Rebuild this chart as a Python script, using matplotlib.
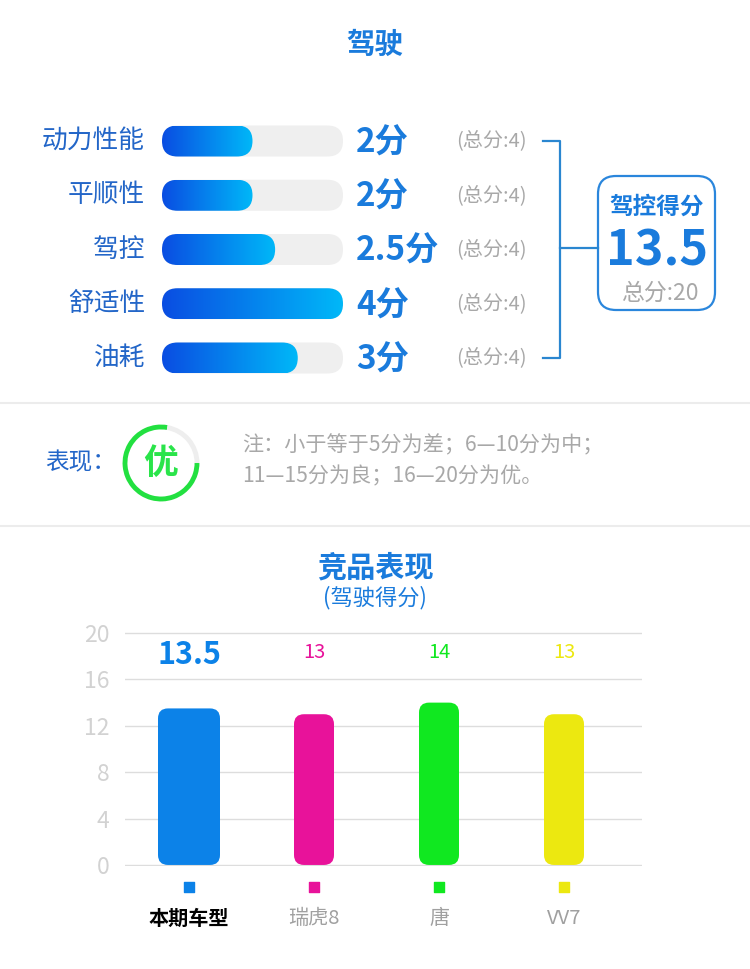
import numpy as np
import matplotlib.pyplot as plt
from matplotlib.patches import FancyBboxPatch, Arc
from matplotlib.colors import LinearSegmentedColormap

plt.rcParams['font.family'] = ['Noto Sans CJK SC', 'DejaVu Sans']

# ---- data ----
items = ['动力性能', '平顺性', '驾控', '舒适性', '油耗']
item_scores = [2, 2, 2.5, 4, 3]
item_max = 4
total_score = 13.5
total_max = 20
rating = '优'
note_lines = ['注：小于等于5分为差；6—10分为中；', '11—15分为良；16—20分为优。']

cars = ['本期车型', '瑞虎8', '唐', 'VV7']
car_scores = [13.5, 13, 14, 13]
car_colors = ['#0c82e8', '#e8129a', '#10e820', '#ece810']
y_ticks = [0, 4, 8, 12, 16, 20]

BLUE = '#1a7bdc'
LABEL_BLUE = '#2366c8'
GRAY = '#a8a8a8'

W, H = 750, 969
fig = plt.figure(figsize=(7.5, 9.69), dpi=100)


def px_axes(x0, y0, x1, y1):
    # axes placed by pixel box, y measured from the top
    a = fig.add_axes([x0 / W, 1 - y1 / H, (x1 - x0) / W, (y1 - y0) / H])
    a.set_facecolor('none')
    return a


bg = px_axes(0, 0, W, H)
bg.set_xlim(0, W)
bg.set_ylim(H, 0)
bg.axis('off')

# ============ top: driving scores ============
bg.text(375, 45, '驾驶', ha='center', va='center', fontsize=20.5, fontweight='bold', color=BLUE)

row0, step = 141, 54.25
ax_p = px_axes(162, row0 - step / 2, 343, row0 + 4.5 * step)
ax_p.axis('off')

grad = LinearSegmentedColormap.from_list('g', ['#0a4de2', '#00b8f8'])
bar_h = 31 / step
r_x = 15.5 / (181 / item_max)
asp = (15.5 / step) / r_x
for i, (name, v) in enumerate(zip(items, item_scores)):
    track = FancyBboxPatch((0, i - bar_h / 2), item_max, bar_h,
                           boxstyle=f'round,pad=0,rounding_size={r_x}',
                           mutation_aspect=asp, fc='#efefef', ec='none', zorder=1)
    ax_p.add_patch(track)
    clip = FancyBboxPatch((0, i - bar_h / 2), v, bar_h,
                          boxstyle=f'round,pad=0,rounding_size={r_x}',
                          mutation_aspect=asp, fc='none', ec='none', zorder=1)
    ax_p.add_patch(clip)
    im = ax_p.imshow(np.linspace(0, 1, 256).reshape(1, -1), cmap=grad,
                     extent=(0, v, i + bar_h / 2, i - bar_h / 2), aspect='auto', zorder=2)
    im.set_clip_path(clip)

    y = row0 + i * step
    bg.text(145, y, name, ha='right', va='center', fontsize=18.5, color=LABEL_BLUE)
    bg.text(356, y + 2, f'{v:g}分', ha='left', va='center', fontsize=24, fontweight='bold', color=BLUE)
    bg.text(456, y, f'(总分:{item_max})', ha='left', va='center', fontsize=14.5, color=GRAY)
ax_p.set_xlim(0, item_max)
ax_p.set_ylim(len(items) - 0.5, -0.5)

# bracket
y_first, y_last = row0, row0 + 4 * step
bg.plot([543, 560, 560, 543], [y_first, y_first, y_last, y_last], color='#2a86d0', lw=1.6)
bg.plot([560, 598], [248, 248], color='#2a86d0', lw=1.6)

# total box
bg.add_patch(FancyBboxPatch((598, 176), 117, 134, boxstyle='round,pad=0,rounding_size=18',
                            fc='white', ec='#2a86dc', lw=1.6))
bg.text(656.5, 207, '驾控得分', ha='center', va='center', fontsize=17, fontweight='bold', color=BLUE)
bg.text(656.5, 251, f'{total_score:g}', ha='center', va='center', fontsize=35, fontweight='bold', color=BLUE)
bg.text(660, 293, f'总分:{total_max}', ha='center', va='center', fontsize=16.5, color=GRAY)

# separators
for ys in (403, 526):
    bg.plot([0, W], [ys, ys], color='#ececec', lw=1.5)

# ============ middle: rating ============
bg.text(45, 463, '表现：', ha='left', va='center', fontsize=17, color=LABEL_BLUE)
bg.add_patch(Arc((161, 463), 72, 72, theta1=0, theta2=280, color='#22e040', lw=3.5))
bg.add_patch(Arc((161, 463), 72, 72, theta1=280, theta2=360, color='#eeeeee', lw=3.5))
bg.text(161, 463, rating, ha='center', va='center', fontsize=25, fontweight='bold', color='#2ae44a')
bg.text(242, 445, note_lines[0], ha='left', va='center', fontsize=15.2, color=GRAY)
bg.text(242, 476, note_lines[1], ha='left', va='center', fontsize=15.2, color=GRAY)

# ============ bottom: competitor chart ============
bg.text(375, 567, '竞品表现', ha='center', va='center', fontsize=21, fontweight='bold', color=BLUE)
bg.text(375, 598, '(驾驶得分)', ha='center', va='center', fontsize=16, color=BLUE)

ax_b = px_axes(125, 632, 642, 866)
x = np.arange(len(cars))
ax_b.set_xlim(-0.512, 3.624)
ax_b.set_ylim(-0.09, 20.09)
ax_b.set_yticks(y_ticks)
ax_b.grid(axis='y', color='#dddddd', lw=1)
ax_b.set_axisbelow(True)
for sp in ax_b.spines.values():
    sp.set_visible(False)
ax_b.tick_params(axis='y', length=0, pad=11, labelsize=16.5, labelcolor='#d2d2d2')

widths = [0.496, 0.32, 0.32, 0.32]
bars = ax_b.bar(x, car_scores, width=widths, color=car_colors)
px_x = 517 / (3.624 + 0.512)
px_y = 234 / 20.18
rb = 10 / px_x
for rect, c in zip(bars, car_colors):
    rx, ry = rect.get_x(), rect.get_y()
    rw, rh = rect.get_width(), rect.get_height()
    rect.remove()
    ax_b.add_patch(FancyBboxPatch((rx, ry), rw, rh, boxstyle=f'round,pad=0,rounding_size={rb}',
                                  mutation_aspect=(10 / px_y) / rb, fc=c, ec='none', zorder=3))

for i, (v, c) in enumerate(zip(car_scores, car_colors)):
    if i == 0:
        ax_b.text(x[i], 18.1, f'{v:g}', ha='center', va='center', fontsize=22, fontweight='bold', color=c)
    else:
        ax_b.text(x[i], 18.3, f'{v:g}', ha='center', va='center', fontsize=14.5, color=c)

ax_b.scatter(x, [-22 / px_y] * len(x), marker='s', s=60, c=car_colors, clip_on=False, zorder=3)

ax_b.set_xticks(x)
ax_b.set_xticklabels(cars)
ax_b.tick_params(axis='x', length=0, pad=30, labelsize=14.5)
for i, lab in enumerate(ax_b.get_xticklabels()):
    if i == 0:
        lab.set_fontweight('bold')
        lab.set_color('black')
    else:
        lab.set_color('#a0a0a0')

fig.savefig('out.png', dpi=100, facecolor='white')
